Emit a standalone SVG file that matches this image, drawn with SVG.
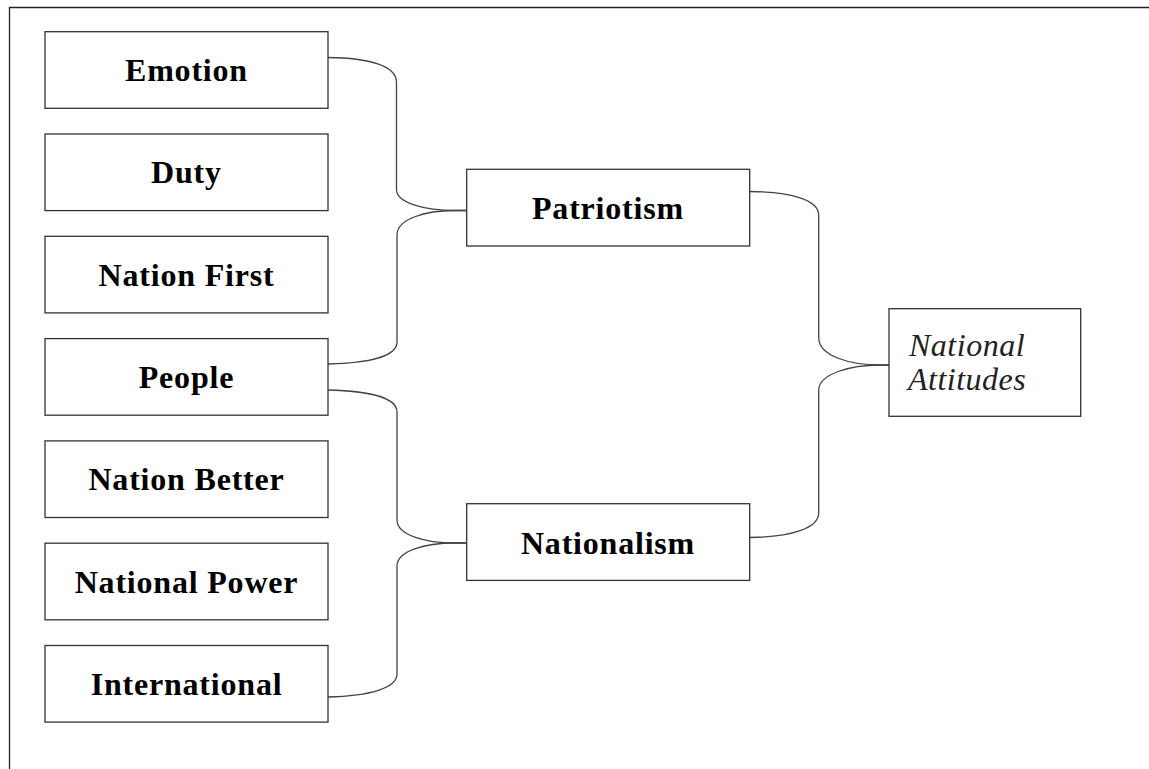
<svg xmlns="http://www.w3.org/2000/svg" width="1149" height="769" viewBox="0 0 1149 769">
<style>
.box{fill:#fff;stroke:#333;stroke-width:1.3}
.lbl{font-family:"Liberation Serif","Times New Roman",serif;font-weight:bold;font-size:32px;letter-spacing:0.8px;fill:#000;text-anchor:middle}
.it{font-family:"Liberation Serif","Times New Roman",serif;font-style:italic;font-size:32px;letter-spacing:0.5px;fill:#222}
.con{fill:none;stroke:#444;stroke-width:1.3}
</style>
<rect x="0" y="0" width="1149" height="769" fill="#fff"/>
<g id="frame"><path d="M9.5 769 V7.5 H1149" fill="none" stroke="#222" stroke-width="1.3"/></g>
<g id="connectors">
<path class="con" d="M328 57.5 C370 58 396 66 396.5 82 V190 C397 203 425 210.5 455 210.5 H466"/>
<path class="con" d="M328 364 C370 363 397 356 397 342 V235 C397 219 425 210.5 455 210.5 H466"/>
<path class="con" d="M328 390 C370 391 397 398 397 412 V520 C397 535 425 543 455 543 H466"/>
<path class="con" d="M328 697 C370 696 397 688 397 674 V566 C397 551 425 543 455 543 H466"/>
<path class="con" d="M750 191.5 C792 192 818.7 200 818.7 215 V338 C819 356 850 365 880 365 H889"/>
<path class="con" d="M750 537.5 C792 537 818.7 528 818.7 513 V390 C819 374 850 365 880 365 H889"/>
</g>
<g id="emotion"><rect class="box" x="45" y="31.7" width="283" height="76.6"/><text class="lbl" x="186.5" y="81">Emotion</text></g>
<g id="duty"><rect class="box" x="45" y="134" width="283" height="76.6"/><text class="lbl" x="186.5" y="183.3">Duty</text></g>
<g id="nation-first"><rect class="box" x="45" y="236.3" width="283" height="76.6"/><text class="lbl" x="186.5" y="285.6">Nation First</text></g>
<g id="people"><rect class="box" x="45" y="338.6" width="283" height="76.6"/><text class="lbl" x="186.5" y="387.9">People</text></g>
<g id="nation-better"><rect class="box" x="45" y="440.9" width="283" height="76.6"/><text class="lbl" x="186.5" y="490.2">Nation Better</text></g>
<g id="national-power"><rect class="box" x="45" y="543.2" width="283" height="76.6"/><text class="lbl" x="186.5" y="592.5">National Power</text></g>
<g id="international"><rect class="box" x="45" y="645.5" width="283" height="76.6"/><text class="lbl" x="186.5" y="694.8">International</text></g>
<g id="patriotism"><rect class="box" x="466.7" y="169.3" width="283" height="76.7"/><text class="lbl" x="608" y="219.3">Patriotism</text></g>
<g id="nationalism"><rect class="box" x="466.7" y="503.7" width="283" height="76.7"/><text class="lbl" x="608" y="553.5">Nationalism</text></g>
<g id="national-attitudes"><rect class="box" x="889" y="308.7" width="191.7" height="107.6"/><text class="it" x="909" y="356">National</text><text class="it" x="908" y="390">Attitudes</text></g>
</svg>
